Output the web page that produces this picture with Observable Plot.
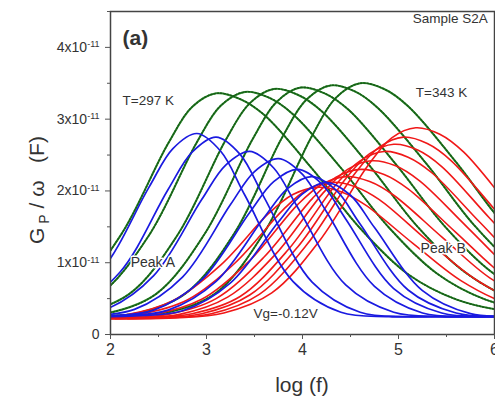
<!DOCTYPE html>
<html>
<head>
<meta charset="utf-8">
<script src="https://cdn.jsdelivr.net/npm/d3@7"></script>
<script src="https://cdn.jsdelivr.net/npm/@observablehq/plot@0.6"></script>
<style>
  html, body { margin: 0; padding: 0; background: #fff; }
  #chart svg { display: block; }
</style>
</head>
<body>
<div id="chart"></div>
<script>
// Gp/ω values in units of 1e-11 F; x = log(f)
const blueCurves = [
  {x:[0.4,0.9,1.4,1.9,2.4,2.65,2.9,3.15,3.4,3.9,4.4,4.9,5.4,5.9],        y:[0.25,0.26,0.36,0.88,2.05,2.59,2.80,2.55,1.94,0.74,0.31,0.25,0.25,0.25]},
  {x:[0.6,1.1,1.6,2.1,2.6,2.85,3.1,3.35,3.6,4.1,4.6,5.1,5.6,6.1],        y:[0.25,0.26,0.36,0.87,2.02,2.54,2.75,2.51,1.91,0.73,0.31,0.25,0.25,0.25]},
  {x:[0.95,1.45,1.95,2.45,2.95,3.2,3.45,3.7,3.95,4.45,4.95,5.45,5.95,6.45],y:[0.25,0.26,0.35,0.82,1.88,2.36,2.55,2.32,1.77,0.69,0.31,0.25,0.25,0.25]},
  {x:[1.25,1.75,2.25,2.75,3.25,3.5,3.75,4.0,4.25,4.75,5.25,5.75,6.25,6.75],y:[0.25,0.26,0.35,0.80,1.81,2.27,2.45,2.23,1.71,0.67,0.30,0.25,0.25,0.25]},
  {x:[1.45,1.95,2.45,2.95,3.45,3.7,3.95,4.2,4.45,4.95,5.45,5.95,6.45,6.95],y:[0.25,0.26,0.34,0.76,1.70,2.13,2.30,2.10,1.61,0.64,0.30,0.25,0.25,0.25]},
  {x:[1.6,2.1,2.6,3.1,3.6,3.85,4.1,4.35,4.6,5.1,5.6,6.1,6.6,7.1],        y:[0.25,0.26,0.34,0.74,1.63,2.04,2.20,2.01,1.54,0.62,0.30,0.25,0.25,0.25]},
  {x:[1.75,2.25,2.75,3.25,3.75,4.0,4.25,4.5,4.75,5.25,5.75,6.25,6.75,7.25],y:[0.25,0.26,0.33,0.72,1.57,1.96,2.12,1.94,1.49,0.61,0.29,0.25,0.25,0.25]}
];
const greenCurves = [
  {x:[0.6,1.1,1.6,2.1,2.6,2.85,3.1,3.35,3.6,4.1,4.6,5.1,5.6,6.1,6.6],        y:[0.26,0.30,0.56,1.37,2.66,3.17,3.36,3.28,3.06,2.31,1.48,0.84,0.49,0.33,0.27]},
  {x:[0.9,1.4,1.9,2.4,2.9,3.15,3.4,3.65,3.9,4.4,4.9,5.4,5.9,6.4,6.9],        y:[0.26,0.30,0.57,1.38,2.68,3.19,3.38,3.30,3.07,2.32,1.49,0.85,0.49,0.33,0.27]},
  {x:[1.2,1.7,2.2,2.7,3.2,3.45,3.7,3.95,4.2,4.7,5.2,5.7,6.2,6.7,7.2],        y:[0.26,0.30,0.57,1.39,2.71,3.22,3.42,3.34,3.11,2.35,1.50,0.86,0.49,0.33,0.27]},
  {x:[1.48,1.98,2.48,2.98,3.48,3.73,3.98,4.23,4.48,4.98,5.48,5.98,6.48,6.98,7.48],y:[0.26,0.30,0.57,1.40,2.72,3.24,3.44,3.36,3.13,2.36,1.51,0.86,0.49,0.33,0.27]},
  {x:[1.79,2.29,2.79,3.29,3.79,4.04,4.29,4.54,4.79,5.29,5.79,6.29,6.79,7.29,7.79],y:[0.26,0.30,0.58,1.41,2.75,3.27,3.47,3.39,3.15,2.38,1.52,0.87,0.49,0.33,0.27]},
  {x:[2.1,2.6,3.1,3.6,4.1,4.35,4.6,4.85,5.1,5.6,6.1,6.6,7.1,7.6,8.1],        y:[0.26,0.31,0.58,1.42,2.77,3.30,3.50,3.42,3.18,2.40,1.53,0.87,0.50,0.33,0.27]}
];
const redCurves = [
  {x:[1.15,1.65,2.15,2.65,3.15,3.65,3.9,4.15,4.4,4.65,5.15,5.65,6.15,6.65,7.15],y:[0.22,0.23,0.27,0.47,0.97,1.69,1.95,2.05,1.99,1.81,1.27,0.75,0.42,0.28,0.24]},
  {x:[1.3,1.8,2.3,2.8,3.3,3.8,4.05,4.3,4.55,4.8,5.3,5.8,6.3,6.8,7.3],        y:[0.22,0.23,0.28,0.48,1.00,1.74,2.02,2.12,2.06,1.88,1.31,0.77,0.43,0.28,0.24]},
  {x:[1.45,1.95,2.45,2.95,3.45,3.95,4.2,4.45,4.7,4.95,5.45,5.95,6.45,6.95,7.45],y:[0.22,0.23,0.28,0.49,1.03,1.81,2.09,2.20,2.13,1.94,1.36,0.79,0.44,0.28,0.24]},
  {x:[1.6,2.1,2.6,3.1,3.6,4.1,4.35,4.6,4.85,5.1,5.6,6.1,6.6,7.1,7.6],        y:[0.22,0.23,0.28,0.50,1.08,1.89,2.19,2.30,2.23,2.03,1.42,0.82,0.45,0.28,0.24]},
  {x:[1.72,2.22,2.72,3.22,3.72,4.22,4.47,4.72,4.97,5.22,5.72,6.22,6.72,7.22,7.72],y:[0.22,0.23,0.28,0.52,1.12,1.98,2.30,2.42,2.35,2.14,1.49,0.85,0.46,0.29,0.24]},
  {x:[1.85,2.35,2.85,3.35,3.85,4.35,4.6,4.85,5.1,5.35,5.85,6.35,6.85,7.35,7.85],y:[0.22,0.23,0.29,0.53,1.18,2.09,2.42,2.55,2.47,2.25,1.56,0.89,0.47,0.29,0.24]},
  {x:[1.95,2.45,2.95,3.45,3.95,4.45,4.7,4.95,5.2,5.45,5.95,6.45,6.95,7.45,7.95],y:[0.22,0.23,0.29,0.55,1.22,2.17,2.52,2.65,2.57,2.34,1.62,0.92,0.49,0.30,0.24]},
  {x:[2.05,2.55,3.05,3.55,4.05,4.55,4.8,5.05,5.3,5.55,6.05,6.55,7.05,7.55,8.05],y:[0.22,0.23,0.29,0.56,1.26,2.25,2.61,2.75,2.66,2.42,1.67,0.95,0.50,0.30,0.24]},
  {x:[2.18,2.68,3.18,3.68,4.18,4.68,4.93,5.18,5.43,5.68,6.18,6.68,7.18,7.68,8.18],y:[0.22,0.23,0.30,0.58,1.31,2.35,2.74,2.88,2.79,2.54,1.75,0.98,0.51,0.30,0.24]}
];
const xTicks = [2, 3, 4, 5, 6];
const xMinorTicks = [2.5, 3.5, 4.5, 5.5];
const yTicks = [0, 1, 2, 3, 4];
const yMinorTicks = [0.5, 1.5, 2.5, 3.5, 4.5];
const annotations = [
  {x: 2.125, y: 4.13, text: "(a)", anchor: "start", size: 21, weight: "bold"},
  {x: 5.93, y: 4.40, text: "Sample S2A", anchor: "end", size: 13.5, weight: "normal"},
  {x: 2.125, y: 3.26, text: "T=297 K", anchor: "start", size: 13.5, weight: "normal"},
  {x: 5.18, y: 3.37, text: "T=343 K", anchor: "start", size: 13.5, weight: "normal"},
  {x: 2.21, y: 1.00, text: "Peak A", anchor: "start", size: 14, weight: "normal"},
  {x: 5.23, y: 1.20, text: "Peak B", anchor: "start", size: 14, weight: "normal"},
  {x: 3.49, y: 0.29, text: "Vg=-0.12V", anchor: "start", size: 13.5, weight: "normal"}
];

function table(curves, family) {
  const rows = [];
  curves.forEach((c, i) => c.x.forEach((x, j) => rows.push({family, id: family + i, x, y: c.y[j]})));
  return rows;
}
const blueRows = table(blueCurves, "blue");
const greenRows = table(greenCurves, "green");
const redRows = table(redCurves, "red");

const textColor = "#333";
const lineOpts = {x: "x", y: "y", z: "id", curve: "catmull-rom", clip: true};

const plot = Plot.plot({
  width: 495,
  height: 405,
  marginLeft: 110,
  marginRight: 1,
  marginTop: 11,
  marginBottom: 71,
  style: {fontFamily: "Liberation Sans, Arial, sans-serif", background: "#fff", color: textColor},
  x: {domain: [2, 6]},
  y: {domain: [0, 4.5]},
  marks: [
    Plot.line(greenRows, {...lineOpts, stroke: "#3a9a3a", strokeWidth: 2}),
    Plot.line(greenRows, {...lineOpts, stroke: "#165c16", strokeWidth: 1.6, strokeDasharray: "1.5,1.8"}),
    Plot.line(redRows, {...lineOpts, stroke: "#f01818", strokeWidth: 1.6}),
    Plot.line(blueRows, {...lineOpts, stroke: "#1a1ae0", strokeWidth: 1.7}),
    Plot.frame({stroke: "#444", strokeWidth: 1.5}),
    Plot.axisX({ticks: xTicks, tickSize: 5, tickPadding: 4, fontSize: 16, label: null, tickFormat: d => String(d), stroke: "#555"}),
    Plot.axisX({ticks: xMinorTicks, tickSize: 3, tickFormat: () => "", label: null, stroke: "#555"}),
    Plot.axisY({ticks: yTicks, tickSize: 5, tickPadding: 6, fontSize: 14, label: null, tickFormat: d => d === 0 ? "0" : `${d}x10`, stroke: "#555"}),
    Plot.axisY({ticks: yMinorTicks, tickSize: 3, tickFormat: () => "", label: null, stroke: "#555"}),
    ...annotations.map(a => Plot.text([a], {
      x: "x", y: "y", text: "text", textAnchor: a.anchor, lineAnchor: "middle",
      fontSize: a.size, fontWeight: a.weight, fill: textColor,
      stroke: a.text.startsWith("Peak") ? "white" : null, strokeWidth: 3
    }))
  ]
});

const svg = d3.select(plot);
// superscript exponent on y tick labels
svg.selectAll('g[aria-label="y-axis tick label"] text').each(function() {
  const t = d3.select(this);
  const s = t.text();
  if (s.endsWith("x10")) {
    t.append("tspan").attr("dy", "-0.5em").attr("font-size", 9).text("-11");
  }
});
// y axis title
const yTitle = svg.append("text")
  .attr("transform", "translate(44,190) rotate(-90)")
  .attr("text-anchor", "middle")
  .attr("font-size", 21)
  .attr("fill", textColor)
  .style("white-space", "pre");
yTitle.append("tspan").text("G");
yTitle.append("tspan").attr("font-size", 14).attr("dy", 5).text(" P");
yTitle.append("tspan").attr("dy", -5).text(" / \u03c9   (F)");
// x axis title
svg.append("text")
  .attr("x", 302).attr("y", 392)
  .attr("text-anchor", "middle")
  .attr("font-size", 21)
  .attr("fill", textColor)
  .text("log (f)");

document.getElementById("chart").appendChild(plot);
</script>
</body>
</html>
